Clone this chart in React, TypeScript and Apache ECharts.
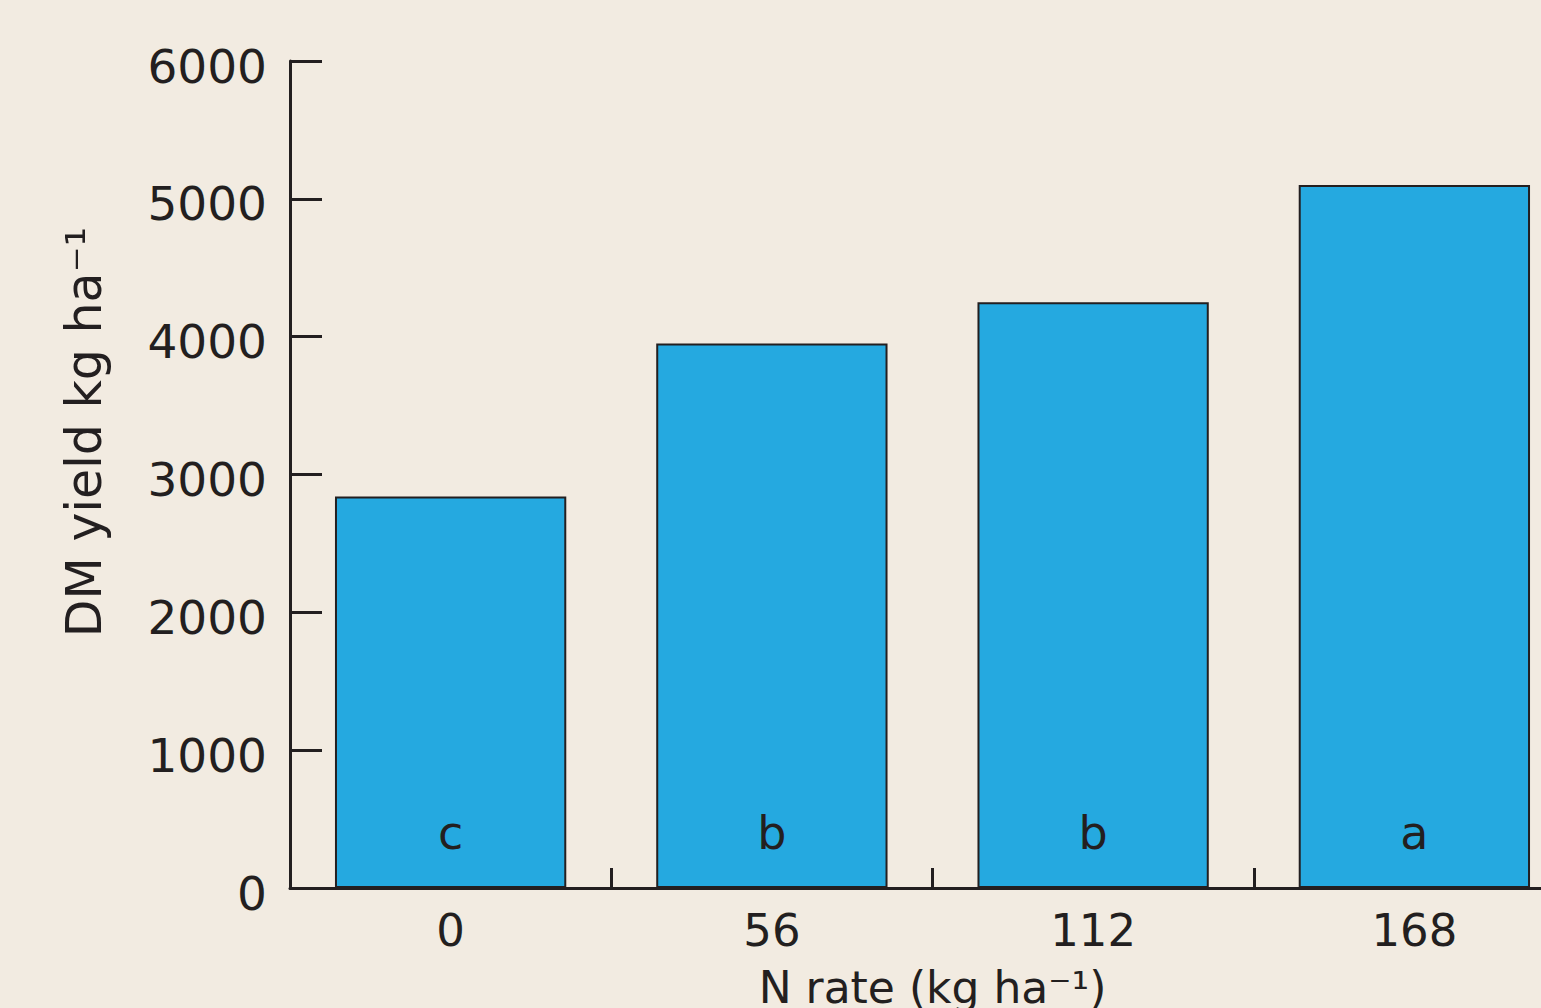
import React, { useEffect, useRef } from "react";
import * as echarts from "echarts";

const categories = ["0", "56", "112", "168"];
const yieldValues = [2840, 3950, 4250, 5100];
const letters = ["c", "b", "b", "a"];
const yAxisTitle = "DM yield kg ha⁻¹";
const xAxisTitle = "N rate (kg ha⁻¹)";

const INK = "#231f20";
const FONT = "DejaVu Sans";

export default function App() {
  const ref = useRef<HTMLDivElement>(null);

  useEffect(() => {
    document.body.style.margin = "0";
    if (!ref.current) return;
    const chart = echarts.init(ref.current, null, { renderer: "svg" });
    chart.setOption({
      animation: false,
      backgroundColor: "#f2ebe1",
      grid: {
        left: 290,
        top: 61,
        width: 1285,
        bottom: 120,
        containLabel: false,
        outerBoundsMode: "none",
      },
      xAxis: {
        type: "category",
        data: categories,
        boundaryGap: true,
        name: xAxisTitle,
        nameLocation: "middle",
        nameGap: 77,
        nameTextStyle: { fontFamily: FONT, fontSize: 44, color: INK },
        axisLine: { show: true, lineStyle: { color: INK, width: 3 } },
        axisTick: {
          show: true,
          inside: true,
          length: 20,
          alignWithLabel: false,
          lineStyle: { color: INK, width: 3 },
        },
        axisLabel: { fontFamily: FONT, fontSize: 45, color: INK, margin: 20 },
        splitLine: { show: false },
      },
      yAxis: {
        type: "value",
        min: 0,
        max: 6000,
        interval: 1000,
        axisLine: { show: true, lineStyle: { color: INK, width: 3 } },
        axisTick: {
          show: true,
          inside: true,
          length: 32,
          lineStyle: { color: INK, width: 3 },
        },
        axisLabel: {
          fontFamily: FONT,
          fontSize: 47,
          color: INK,
          margin: 23,
          verticalAlign: "top",
          lineHeight: 10,
          formatter: (v: number) => String(v),
        },
        splitLine: { show: false },
      },
      graphic: [
        {
          type: "text",
          x: 84,
          y: 432,
          rotation: Math.PI / 2,
          style: {
            text: yAxisTitle,
            font: `49px "${FONT}"`,
            fill: INK,
            textAlign: "center",
            textVerticalAlign: "middle",
            align: "center",
            verticalAlign: "middle",
          },
        },
      ],
      series: [
        {
          type: "bar",
          data: yieldValues,
          barWidth: "72%",
          itemStyle: { color: "#25a9e0", borderColor: INK, borderWidth: 2 },
          label: {
            show: true,
            position: "insideBottom",
            distance: 32,
            fontFamily: FONT,
            fontSize: 46,
            color: INK,
            formatter: (p: any) => letters[p.dataIndex],
          },
        },
      ],
    });
    return () => chart.dispose();
  }, []);

  return <div ref={ref} style={{ width: 1541, height: 1008 }} />;
}
